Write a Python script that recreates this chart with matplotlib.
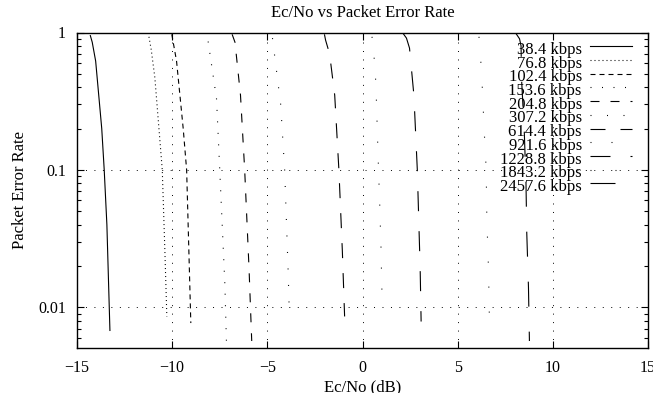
import numpy as np
import matplotlib
matplotlib.use("Agg")
import matplotlib.pyplot as plt
from matplotlib.lines import Line2D

plt.rcParams['font.family'] = ['Liberation Serif', 'DejaVu Serif']
plt.rcParams['lines.scale_dashes'] = False

labels = ["38.4 kbps", "76.8 kbps", "102.4 kbps", "153.6 kbps", "204.8 kbps",
          "307.2 kbps", "614.4 kbps", "921.6 kbps", "1228.8 kbps",
          "1843.2 kbps", "2457.6 kbps"]

# Ec/No (dB) and packet error rate
ecno_384 = [-14.30, -14.20, -14.02, -13.70, -13.57, -13.43, -13.27]
per_384 = [0.95, 0.85, 0.62, 0.2, 0.1, 0.04, 0.0068]
ecno_768 = [-11.22, -11.10, -10.91, -10.52, -10.38, -10.28]
per_768 = [0.93, 0.75, 0.47, 0.1, 0.025, 0.0086]
ecno_1024 = [-10.02, -9.77, -9.42, -9.24, -9.12, -9.02]
per_1024 = [0.97, 0.62, 0.2, 0.1, 0.025, 0.0077]
ecno_1536 = [-8.11, -7.67, -7.50, -7.23, -7.15]
per_1536 = [0.86, 0.33, 0.1, 0.0146, 0.0057]
ecno_2048 = [-6.85, -6.70, -6.41, -6.19, -5.96, -5.82]
per_2048 = [0.97, 0.85, 0.35, 0.1, 0.019, 0.0057]
ecno_3072 = [-4.73, -4.30, -4.09, -3.91, -3.86]
per_3072 = [0.91, 0.3, 0.1, 0.019, 0.0108]
ecno_6144 = [-2.00, -1.94, -1.73, -1.46, -1.24, -1.06, -0.94]
per_6144 = [0.97, 0.88, 0.7, 0.35, 0.1, 0.026, 0.0086]
ecno_9216 = [0.50, 0.58, 0.67, 0.72, 0.79, 0.86, 0.90, 0.97, 1.04]
per_9216 = [0.93, 0.74, 0.52, 0.36, 0.17, 0.085, 0.059, 0.028, 0.0097]
ecno_12288 = [2.12, 2.31, 2.47, 2.70, 2.88, 3.03, 3.08]
per_12288 = [0.99, 0.91, 0.77, 0.35, 0.1, 0.019, 0.0079]
ecno_18432 = [6.12, 6.20, 6.28, 6.41, 6.50, 6.53, 6.62, 6.67]
per_18432 = [0.93, 0.67, 0.44, 0.175, 0.1, 0.046, 0.019, 0.0079]
ecno_24576 = [8.05, 8.25, 8.33, 8.36, 8.50, 8.59, 8.63, 8.72, 8.77]
per_24576 = [0.99, 0.9, 0.8, 0.45, 0.19, 0.08, 0.035, 0.014, 0.0057]

xs = [ecno_384, ecno_768, ecno_1024, ecno_1536, ecno_2048, ecno_3072,
      ecno_6144, ecno_9216, ecno_12288, ecno_18432, ecno_24576]
ys = [per_384, per_768, per_1024, per_1536, per_2048, per_3072,
      per_6144, per_9216, per_12288, per_18432, per_24576]

# dash patterns in points (px * 0.72)
px = 0.72
dashes = [None, (1*px, 3*px), (5*px, 4*px), (1*px, 10.5*px), (9*px, 11*px),
          (1*px, 15.5*px), (15*px, 15*px), (1*px, 20*px), (20*px, 20*px),
          (1*px, 24*px), (25*px, 25*px)]

fig = plt.figure(figsize=(6.53, 3.93), dpi=100)
ax = fig.add_axes([77/653, 1-348/393, 571/653, 315.5/393])

for x, y, d in zip(xs, ys, dashes):
    if d is None:
        ax.plot(x, y, color='black', lw=0.8)
    else:
        ax.plot(x, y, color='black', lw=0.8, dashes=d, dash_capstyle='butt')

ax.set_yscale('log')
ax.set_xlim(-15, 15)
ax.set_ylim(0.00507, 1)
ax.set_xticks([-15, -10, -5, 0, 5, 10, 15])
ax.set_yticks([1, 0.1, 0.01])
ax.set_yticklabels(["1", "0.1", "0.01"])
ax.yaxis.set_minor_locator(matplotlib.ticker.LogLocator(base=10, subs=np.arange(2, 10)))
ax.yaxis.set_minor_formatter(matplotlib.ticker.NullFormatter())
ax.tick_params(which='both', direction='in', top=True, right=True, labelsize=11.5,
               width=0.8)
ax.tick_params(which='major', length=5)
ax.tick_params(which='minor', length=3)
ax.tick_params(axis='x', pad=9)
ax.tick_params(axis='y', pad=8)
ax.grid(True, which='major', color='black', lw=0.7, dashes=(0.7, 5.4))
for s in ax.spines.values():
    s.set_linewidth(1.0)

ax.set_title("Ec/No vs Packet Error Rate", fontsize=12, pad=11)
ax.set_xlabel("Ec/No (dB)", fontsize=12, labelpad=2)
ax.set_ylabel("Packet Error Rate", fontsize=12, labelpad=7)

# key in the top right corner, text to the left of the sample line
y0, step = 0.951, (0.951 - 0.517) / 10
for i, (lab, d) in enumerate(zip(labels, dashes)):
    yy = y0 - i * step
    ax.text(0.884, yy, lab, transform=ax.transAxes, ha='right',
            va='center_baseline', fontsize=12)
    ln = Line2D([0.898, 0.972], [yy + 0.005, yy + 0.005], transform=ax.transAxes,
                color='black', lw=0.8)
    if d is not None:
        ln.set_dashes(d)
    ax.add_line(ln)

fig.savefig("out.png", dpi=100)
